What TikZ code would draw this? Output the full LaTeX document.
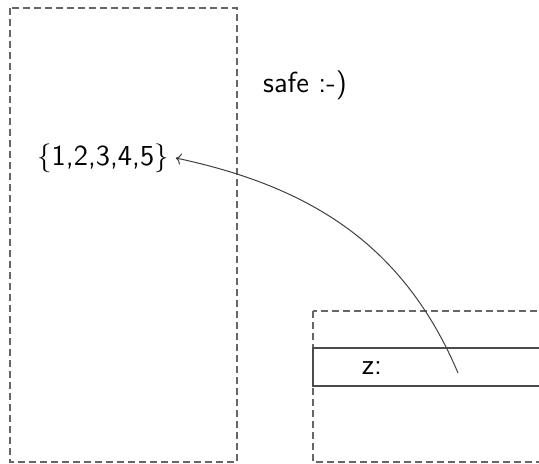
\documentclass[tikz,border=0pt]{standalone}
\usepackage{tikz}
\usetikzlibrary{arrows.meta, positioning}

\begin{document}
\begin{tikzpicture}[
        x=0.5pt, y=-0.5pt,
        every node/.style={font=\sffamily\fontsize{14.5}{17}\selectfont},
        frame/.style={draw=black!60, line width=0.55pt, dash pattern=on 3.5pt off 2pt},
        slot/.style={draw=black!70, line width=0.55pt},
        ref/.style={->, draw=black!75, line width=0.5pt}
    ]
        \clip (0,0) rectangle (539,464);

        % Frames
        \draw[frame] (10,8) rectangle (237,462);
        \draw[frame] (313,311) rectangle (560,462);
        \draw[slot] (560,348) -- (313,348) -- (313,386) -- (560,386);

        % Labels
        \node (vals) at (103,158) {$\{$1,2,3,4,5$\}$};
        \node (safe) at (305,85) {safe :-)};
        \node (zlbl) at (372,368) {z:};
        \coordinate (zptr) at (458,373);

        % Reference
        \draw[ref] (zptr) to[out=113, in=-12] (vals.east);

    \end{tikzpicture}
\end{document}
